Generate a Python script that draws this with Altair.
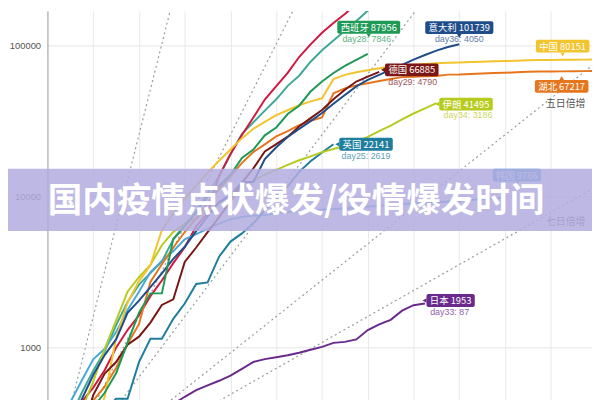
import altair as alt
import pandas as pd

# ---------------- data (cumulative confirmed cases, day 0 = first day with ~100 cases) ----------------
china_start = 2
china = [120, 180, 280, 470, 1150, 1975, 2744, 3500, 5974, 7711, 9692, 11791, 14380, 17205, 20438,
         24324, 28018, 31161, 34546, 37198, 40171, 42638, 44653, 59804, 63851, 66492, 68500, 70548,
         72436, 74185, 74576, 75465, 76288, 76936, 77150, 77658, 78064, 78497, 78824, 79251, 79824,
         80026, 80151, 80270, 80409, 80552, 80651]
hubei_start = 2
hubei = [270, 375, 444, 549, 729, 1052, 1423, 2714, 3554, 4586, 5806, 7153, 9074, 11177, 13522,
         16678, 19665, 22112, 24953, 27100, 29631, 31728, 33366, 48206, 51986, 54406, 56249, 58182,
         59989, 61682, 62031, 62442, 62662, 64084, 64287, 64786, 65187, 65596, 65914, 66337, 66907,
         67103, 67217, 67332, 67466, 67592, 67666]
italy = [155, 229, 322, 453, 655, 888, 1128, 1694, 2036, 2502, 3089, 3858, 4636, 5883, 7375, 9172,
         10149, 12462, 12462, 17660, 21157, 24747, 27980, 31506, 35713, 41035, 47021, 53578, 59138,
         63927, 69176, 74386, 80589, 86498, 92472, 97689, 101739]
spain = [120, 165, 222, 259, 400, 500, 673, 1073, 1695, 2277, 2277, 5232, 6391, 7798, 9942, 11748,
         13910, 17963, 20410, 25374, 28603, 35136, 39885, 49515, 57786, 65719, 73235, 80110, 87956]
germany = [130, 159, 196, 262, 482, 670, 799, 1040, 1176, 1457, 1908, 2078, 3675, 4585, 5795, 7272,
           9257, 12327, 15320, 19848, 22213, 24873, 29056, 32986, 37323, 43938, 50871, 57695, 62095,
           66885]
iran = [95, 139, 245, 388, 593, 978, 1501, 2336, 2922, 3513, 4747, 5823, 6566, 7161, 8042, 9000,
        10075, 11364, 12729, 13938, 14991, 16169, 17361, 18407, 19644, 20610, 21638, 23049, 24811,
        27017, 29406, 32332, 35408, 38309, 41495]
uk = [115, 163, 206, 273, 321, 382, 456, 456, 798, 1140, 1140, 1543, 1950, 2626, 2689, 3983, 5018,
      5683, 6650, 8077, 9529, 11658, 14543, 17089, 19522, 22141]
korea = [104, 204, 433, 602, 833, 977, 1261, 1766, 2337, 3150, 3736, 4335, 5186, 5621, 6088, 6593,
         7041, 7314, 7478, 7513, 7755, 7869, 7979, 8086, 8162, 8236, 8320, 8413, 8565, 8652, 8799,
         8897, 8961, 9037, 9137, 9241, 9332, 9478, 9583, 9661, 9786]
japan = [150, 165, 180, 195, 210, 230, 250, 275, 300, 330, 365, 420, 470, 520, 560, 600, 650, 720,
         800, 835, 860, 885, 920, 963, 1007, 1070, 1086, 1128, 1300, 1420, 1520, 1750, 1900, 1953]
usa = [158, 221, 319, 435, 541, 704, 994, 1301, 1630, 2183, 2770, 3613, 4596, 6344, 7754, 13677,
       19100, 25489, 33276, 43847, 53740, 65778, 83836, 101657, 121478, 140886, 161807, 188172]
other = [150, 230, 340, 500, 700, 940, 1400, 2000, 2600, 3100, 3700, 5200, 6300, 8000, 10500, 13500,
         19000, 26000, 31000, 37000, 44000, 54000, 63000, 78000, 93000, 108000, 125000, 145000,
         170000, 195000]

series = [
    ("未标注", 0, other, "#3fa996"),
    ("美国", 0, usa, "#d0193f"),
    ("韩国", 0, korea, "#48a9d6"),
    ("英国", 0, uk, "#1f7e9d"),
    ("日本", 0, japan, "#6a2a8c"),
    ("伊朗", 0, iran, "#b7cb1e"),
    ("湖北", hubei_start, hubei, "#e5761d"),
    ("中国", china_start, china, "#f2c42d"),
    ("德国", 0, germany, "#7a1716"),
    ("意大利", 0, italy, "#1f4d8a"),
    ("西班牙", 0, spain, "#1e9a56"),
]

# doubling reference lines: 100 cases at day 0, doubling every k days -> (end day, end value)
doubling = {"一日倍增": (12, 409600), "二日倍增": (24, 409600), "三日倍增": (36, 409600),
            "五日倍增": (48, 77604), "七日倍增": (48, 11593)}
doubling_labels = [("五日倍增", 45.3, 53300), ("七日倍增", 45.3, 8880)]

# end-of-line labels: (country, box text, sub text)
labels = [
    ("西班牙", "西班牙 87956", "day28: 7846"),
    ("意大利", "意大利 101739", "day36: 4050"),
    ("中国", "中国 80151", ""),
    ("德国", "德国 66885", "day29: 4790"),
    ("湖北", "湖北 67217", ""),
    ("伊朗", "伊朗 41495", "day34: 3186"),
    ("英国", "英国 22141", "day25: 2619"),
    ("韩国", "韩国 9786", ""),
    ("日本", "日本 1953", "day33: 87"),
]
label_end_day = {"中国": 44, "湖北": 44}

title_text = "国内疫情点状爆发/役情爆发时间"

# ---------------- styling (pixel offsets of the label boxes) ----------------
label_style = {
    # box dx, dy, pointer, sub dx, sub dy
    "西班牙": (1, -27, "down", -1, -15),
    "意大利": (0, -17, "down", 0, -5),
    "中国": (12, -14, "down", 0, 0),
    "德国": (33, -2, "left", 34, 10),
    "湖北": (11, 15, "up", 0, 0),
    "伊朗": (30, 1, "left", 32, 12),
    "英国": (33, 0, "left", 33, 12),
    "韩国": (12, -23, "down", 0, 0),
    "日本": (26, -3, "left", 25, 9),
}

W, H = 552, 430
XDOM = [0, 47.6]
YDOM = [262, 169400]
FONT = "Noto Sans CJK SC"

rows = []
color_of = {}
for name, start, vals, col in series:
    color_of[name] = col
    for i, v in enumerate(vals):
        rows.append({"country": name, "day": start + i, "cases": v})
df = pd.DataFrame(rows)

xs = alt.Scale(domain=XDOM, nice=False, zero=False)
ys = alt.Scale(type="log", domain=YDOM, nice=False)

dbl_rows = []
for name, (d_end, v_end) in doubling.items():
    dbl_rows.append({"rate": name, "day": 0, "cases": 100})
    dbl_rows.append({"rate": name, "day": d_end, "cases": v_end})
dbl_df = pd.DataFrame(dbl_rows)

base_x = alt.X("day:Q", scale=xs,
               axis=alt.Axis(values=list(range(0, 48)), grid=True, gridColor="#e9e9e9",
                             labels=False, ticks=False, domain=False, title=None))
base_y = alt.Y("cases:Q", scale=ys,
               axis=alt.Axis(values=[1000, 10000, 100000], format="d", grid=True,
                             gridColor="#e6e6e6", ticks=False, domainColor="#a0a0a0",
                             labelPadding=7, labelFontSize=9.5, labelColor="#555555",
                             labelFont="Liberation Sans", title=None))

grid_layer = alt.Chart(dbl_df).mark_line(strokeDash=[2, 3], color="#9a9a9a", strokeWidth=1.2,
                                         clip=True).encode(x=base_x, y=base_y, detail="rate:N")

dl_df = pd.DataFrame([{"t": t, "day": d, "cases": v} for t, d, v in doubling_labels])
dbl_text = alt.Chart(dl_df).mark_text(fontSize=10, color="#555555", font=FONT, dy=18).encode(
    x=alt.X("day:Q", scale=xs), y=alt.Y("cases:Q", scale=ys), text="t:N")

lines = alt.Chart(df).mark_line(strokeWidth=2, clip=True).encode(
    x=alt.X("day:Q", scale=xs), y=alt.Y("cases:Q", scale=ys),
    color=alt.Color("country:N", scale=alt.Scale(domain=[s[0] for s in series],
                                                  range=[s[3] for s in series]), legend=None),
    order=alt.Order("day:Q"))

layers = [grid_layer, lines, dbl_text]


def text_width(s, fs):
    w = 0
    for ch in s:
        if ord(ch) > 0x2E80:
            w += fs
        elif ch == " ":
            w += fs * 0.28
        else:
            w += fs * 0.56
    return w


for country, box_text, sub_text in labels:
    vals = dict((s[0], (s[1], s[2])) for s in series)[country]
    start, vv = vals
    if country in label_end_day:
        d_end = label_end_day[country]
        v_end = vv[d_end - start]
    else:
        d_end = start + len(vv) - 1
        v_end = vv[-1]
    col = color_of[country]
    bdx, bdy, ptr, sdx, sdy = label_style[country]
    fs = 9.5
    bw = text_width(box_text, fs) + 6
    bh = 13
    one = pd.DataFrame([{"day": d_end, "cases": v_end, "t": box_text, "s": sub_text}])
    enc = dict(x=alt.X("day:Q", scale=xs), y=alt.Y("cases:Q", scale=ys))
    rect = alt.Chart(one).mark_rect(
        color=col, cornerRadius=2, xOffset=bdx - bw / 2, x2Offset=bdx + bw / 2,
        yOffset=bdy - bh / 2, y2Offset=bdy + bh / 2).encode(
        x2="day:Q", y2="cases:Q", **enc)
    if ptr == "left":
        shape, px, py = "triangle-left", bdx - bw / 2 - 2, bdy
    elif ptr == "down":
        shape, px, py = "triangle-down", bdx, bdy + bh / 2 + 2
    else:
        shape, px, py = "triangle-up", bdx, bdy - bh / 2 - 2
    tri = alt.Chart(one).mark_point(shape=shape, filled=True, opacity=1, color=col, size=22,
                                    xOffset=px, yOffset=py).encode(**enc)
    txt = alt.Chart(one).mark_text(color="white", fontSize=fs, font=FONT, dx=bdx, dy=bdy + 0.5,
                                   baseline="middle").encode(text="t:N", **enc)
    layers += [rect, tri, txt]
    if sub_text:
        sub = alt.Chart(one).mark_text(color=col, opacity=0.75, fontSize=9, font="Liberation Sans",
                                       dx=sdx, dy=sdy, baseline="middle").encode(text="s:N", **enc)
        layers.append(sub)

banner = alt.Chart(pd.DataFrame([{"t": title_text}])).mark_rect(
    color="#b3acdf", opacity=0.85).encode(
    x=alt.value(-40), x2=alt.value(W), y=alt.value(160), y2=alt.value(223))
banner_text = alt.Chart(pd.DataFrame([{"t": title_text}])).mark_text(
    color="white", fontSize=35, font=FONT, fontWeight="bold", baseline="middle",
    align="center").encode(x=alt.value(252), y=alt.value(193), text="t:N")
layers += [banner, banner_text]

chart = alt.layer(*layers).properties(
    width=W, height=H, autosize=alt.AutoSizeParams(type="none"),
    padding={"left": 40, "top": 0, "right": 0, "bottom": 0}
).configure_view(stroke=None)

chart.save("out.html", embed_options={"renderer": "svg", "actions": False})
